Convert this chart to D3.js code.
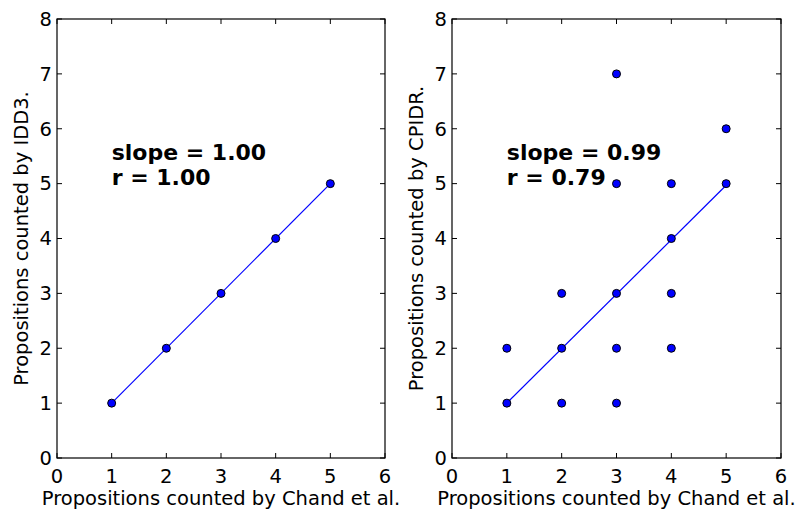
<!DOCTYPE html>
<html><head><meta charset="utf-8">
<script src="https://cdn.jsdelivr.net/npm/d3@7"></script>
<style>body{margin:0;background:#fff}svg{display:block}text{font-family:"DejaVu Sans",sans-serif}</style>
</head><body>
<svg id="c" width="795" height="512"></svg>
<script>
// Data
const leftX = [1, 2, 3, 4, 5];
const leftY = [1, 2, 3, 4, 5];
const leftLineX = [1, 5];
const leftLineY = [1, 5];
const rightX = [1, 1, 2, 2, 2, 3, 3, 3, 3, 3, 4, 4, 4, 4, 5, 5];
const rightY = [1, 2, 1, 2, 3, 1, 2, 3, 5, 7, 2, 3, 4, 5, 5, 6];
const rightLineX = [1, 5];
const rightLineY = [1.0, 4.97];
const xTicks = [0, 1, 2, 3, 4, 5, 6];
const yTicks = [0, 1, 2, 3, 4, 5, 6, 7, 8];
const xLabel = "Propositions counted by Chand et al.";
const leftYLabel = "Propositions counted by IDD3.";
const rightYLabel = "Propositions counted by CPIDR.";
const leftStats = ["slope = 1.00", "r = 1.00"];
const rightStats = ["slope = 0.99", "r = 0.79"];

const svg = d3.select("#c");
const plotTop = 19, plotBottom = 458;

function panel(x0, x1, xs, ys, lx, ly, ylab, stats, ylabX) {
  const g = svg.append("g");
  const x = d3.scaleLinear().domain([0, 6]).range([x0, x1]);
  const y = d3.scaleLinear().domain([0, 8]).range([plotBottom, plotTop]);
  // frame
  g.append("rect").attr("x", x0).attr("y", plotTop).attr("width", x1 - x0).attr("height", plotBottom - plotTop)
    .attr("fill", "none").attr("stroke", "#000").attr("stroke-width", 1.2);
  const tl = 5;
  // ticks (inward, all sides)
  xTicks.forEach(t => {
    g.append("line").attr("x1", x(t)).attr("x2", x(t)).attr("y1", plotBottom).attr("y2", plotBottom - tl).attr("stroke", "#000");
    g.append("line").attr("x1", x(t)).attr("x2", x(t)).attr("y1", plotTop).attr("y2", plotTop + tl).attr("stroke", "#000");
    g.append("text").attr("x", x(t)).attr("y", plotBottom + 25).attr("text-anchor", "middle").attr("font-size", 19.5).text(t);
  });
  yTicks.forEach(t => {
    g.append("line").attr("x1", x0).attr("x2", x0 + tl).attr("y1", y(t)).attr("y2", y(t)).attr("stroke", "#000");
    g.append("line").attr("x1", x1).attr("x2", x1 - tl).attr("y1", y(t)).attr("y2", y(t)).attr("stroke", "#000");
    g.append("text").attr("x", x0 - 5).attr("y", y(t)).attr("dy", "0.35em").attr("text-anchor", "end").attr("font-size", 19.5).text(t);
  });
  // labels
  g.append("text").attr("x", (x0 + x1) / 2).attr("y", 505).attr("text-anchor", "middle").attr("font-size", 19.5).text(xLabel);
  g.append("text").attr("transform", `translate(${ylabX},${(plotTop + plotBottom) / 2}) rotate(-90)`)
    .attr("text-anchor", "middle").attr("font-size", 19.5).text(ylab);
  // regression line
  const line = d3.line().x(d => x(d[0])).y(d => y(d[1]));
  g.append("path").datum(lx.map((v, i) => [v, ly[i]])).attr("d", line)
    .attr("fill", "none").attr("stroke", "#0000ff").attr("stroke-width", 1.2);
  // points
  g.selectAll("circle.p").data(xs.map((v, i) => [v, ys[i]])).enter().append("circle")
    .attr("cx", d => x(d[0])).attr("cy", d => y(d[1])).attr("r", 4)
    .attr("fill", "#0000ff").attr("stroke", "#000").attr("stroke-width", 1);
  // stats text
  stats.forEach((s, i) => {
    g.append("text").attr("x", x(1)).attr("y", 160 + i * 25).attr("font-size", 22).attr("font-weight", "bold").text(s);
  });
}

panel(57, 385, leftX, leftY, leftLineX, leftLineY, leftYLabel, leftStats, 28);
panel(452, 781, rightX, rightY, rightLineX, rightLineY, rightYLabel, rightStats, 423);
</script>
</body></html>
